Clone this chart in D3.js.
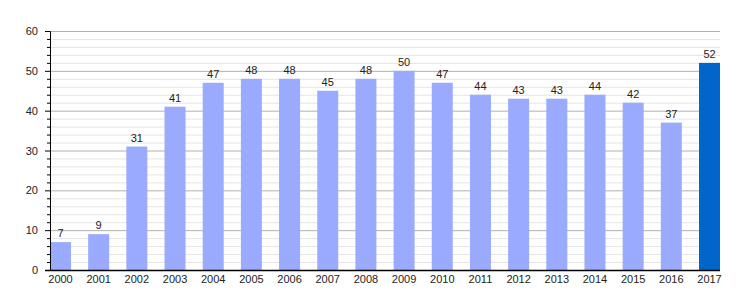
<!DOCTYPE html>
<html>
<head>
<meta charset="utf-8">
<script src="https://cdn.jsdelivr.net/npm/d3@7"></script>
<style>
  body { margin: 0; background: #fff; }
  text { font-family: "Liberation Sans", Arial, sans-serif; font-size: 11px; fill: #222; }
</style>
</head>
<body>
<div id="chart"></div>
<script>
const years = ["2000","2001","2002","2003","2004","2005","2006","2007","2008",
               "2009","2010","2011","2012","2013","2014","2015","2016","2017"];
const values = [7, 9, 31, 41, 47, 48, 48, 45, 48, 50, 47, 44, 43, 43, 44, 42, 37, 52];
const yMajorTicks = [0, 10, 20, 30, 40, 50, 60];
const highlightYear = "2017";

const margin = {top: 31, right: 30, bottom: 30, left: 50};
const width = 750 - margin.left - margin.right;
const height = 300 - margin.top - margin.bottom;

const svg = d3.select("#chart").append("svg")
    .attr("width", 750)
    .attr("height", 300)
  .append("g")
    .attr("transform", "translate(" + margin.left + "," + margin.top + ")");

const x = d3.scaleBand().domain(years).range([0, width]).paddingInner(0.45).paddingOuter(0);
const y = d3.scaleLinear().domain([0, 60]).range([height, 0]);

// grid lines, minor every 2, major every 10
const minorTicks = d3.range(0, 61, 2).filter(d => d % 10 !== 0);
svg.append("g").selectAll("line.minor")
    .data(minorTicks).enter().append("line")
    .attr("x1", 0).attr("x2", width)
    .attr("y1", d => y(d) + 0.5).attr("y2", d => y(d) + 0.5)
    .attr("stroke", "#e4e4e4");
svg.append("g").selectAll("line.major")
    .data(yMajorTicks.filter(d => d > 0)).enter().append("line")
    .attr("x1", 0).attr("x2", width)
    .attr("y1", d => y(d) + 0.5).attr("y2", d => y(d) + 0.5)
    .attr("stroke", "#b0b0b0");

// bars
svg.append("g").selectAll("rect")
    .data(years).enter().append("rect")
    .attr("x", d => x(d))
    .attr("y", (d, i) => y(values[i]))
    .attr("width", x.bandwidth())
    .attr("height", (d, i) => height - y(values[i]))
    .attr("fill", d => d === highlightYear ? "#0066cc" : "#99aaff");

// value labels
svg.append("g").selectAll("text")
    .data(years).enter().append("text")
    .attr("x", d => x(d) + x.bandwidth() / 2)
    .attr("y", (d, i) => y(values[i]) - 5)
    .attr("text-anchor", "middle")
    .text((d, i) => values[i]);

// y axis
const yAxis = svg.append("g")
    .call(d3.axisLeft(y).tickValues(yMajorTicks).tickSize(5).tickPadding(7));
yAxis.select(".domain").attr("stroke", "#000");
yAxis.selectAll("text").style("font-size", "11px");
svg.append("g").selectAll("line")
    .data(minorTicks).enter().append("line")
    .attr("x1", -3).attr("x2", 0)
    .attr("y1", d => y(d) + 0.5).attr("y2", d => y(d) + 0.5)
    .attr("stroke", "#000");

// x axis
const xAxis = svg.append("g")
    .attr("transform", "translate(0," + height + ")")
    .call(d3.axisBottom(x).tickSize(0).tickPadding(5));
xAxis.select(".domain").remove();
xAxis.selectAll("text").style("font-size", "11px");
svg.append("line")
    .attr("x1", -5).attr("x2", width)
    .attr("y1", height + 0.5).attr("y2", height + 0.5)
    .attr("stroke", "#000").attr("stroke-width", 1.5);
</script>
</body>
</html>
